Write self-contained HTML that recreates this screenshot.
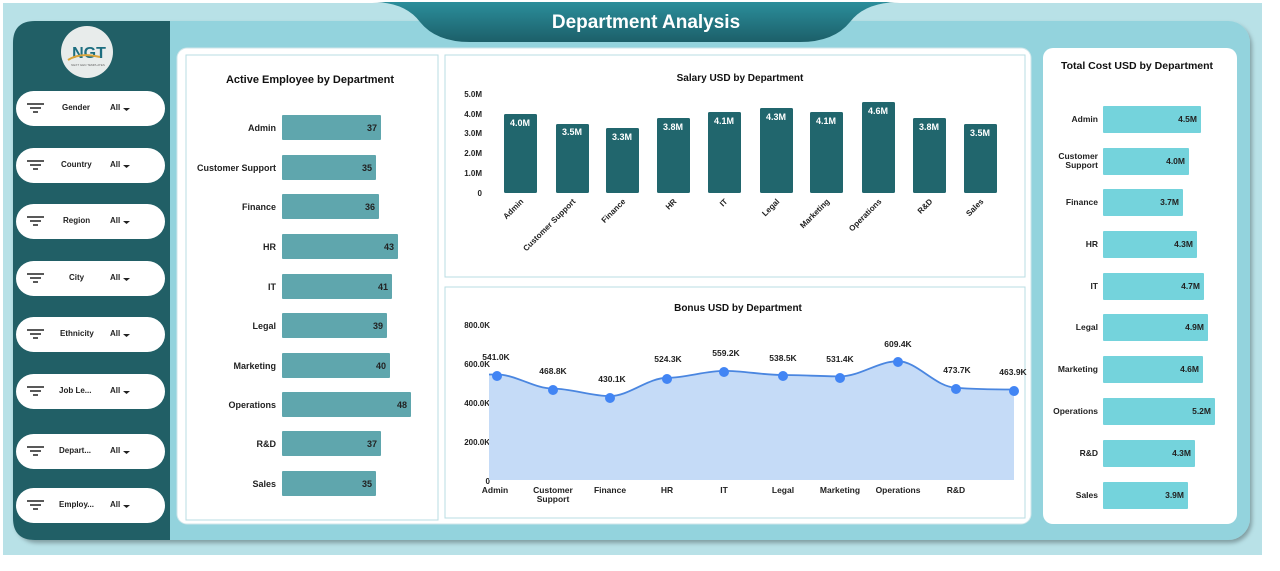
<!DOCTYPE html>
<html><head><meta charset="utf-8"><style>
body{margin:0;width:1280px;height:566px;overflow:hidden;background:#fff;font-family:"Liberation Sans",sans-serif}
svg text{font-family:"Liberation Sans",sans-serif}
</style></head><body>
<svg width="1280" height="566" viewBox="0 0 1280 566" xmlns="http://www.w3.org/2000/svg">
<defs>
<linearGradient id="ban" x1="0" y1="0" x2="0" y2="1"><stop offset="0" stop-color="#2b8e9b"/><stop offset="1" stop-color="#1c5f69"/></linearGradient>
<filter id="sh" x="-5%" y="-5%" width="110%" height="115%"><feDropShadow dx="2" dy="3" stdDeviation="2" flood-color="#000" flood-opacity="0.3"/></filter>
</defs>
<rect x="3" y="3" width="1259" height="552" fill="#b8e1e7"/>
<rect x="13" y="21" width="1237" height="519" rx="22" fill="#93d3dd" filter="url(#sh)"/>
<path d="M13 43 Q13 21 35 21 L170 21 L170 540 L35 540 Q13 540 13 518 Z" fill="#215f66"/>
<path d="M372 2 Q405 2 420 22 Q436 42 470 42 L800 42 Q834 42 850 22 Q865 2 900 2 Z" fill="url(#ban)"/>
<text x="646" y="28" font-size="19" font-weight="bold" fill="#fff" text-anchor="middle">Department  Analysis</text>
<!-- logo -->
<circle cx="87" cy="52" r="26" fill="#e8eceb"/>
<text x="89" y="58" font-size="16" font-weight="bold" fill="#1d6e80" text-anchor="middle">NGT</text>
<path d="M68 60 Q80 52 100 57" stroke="#d9a43a" stroke-width="2" fill="none"/>
<text x="88" y="66" font-size="3" fill="#666" text-anchor="middle">NEXT GEN TEMPLATES</text>
<!-- filters -->
<g font-size="8" font-weight="bold" fill="#222">
<g id="f">
</g>
</g>
<g>
<rect x="16" y="91" width="149" height="35" rx="17.5" fill="#fff"/>
<rect x="16" y="148" width="149" height="35" rx="17.5" fill="#fff"/>
<rect x="16" y="204" width="149" height="35" rx="17.5" fill="#fff"/>
<rect x="16" y="261" width="149" height="35" rx="17.5" fill="#fff"/>
<rect x="16" y="317" width="149" height="35" rx="17.5" fill="#fff"/>
<rect x="16" y="374" width="149" height="35" rx="17.5" fill="#fff"/>
<rect x="16" y="434" width="149" height="35" rx="17.5" fill="#fff"/>
<rect x="16" y="488" width="149" height="35" rx="17.5" fill="#fff"/>
</g>
<g stroke="#222" stroke-width="1.6">
<path d="M27 104h17M30 108h11M33 112h5"/><path d="M27 161h17M30 165h11M33 169h5"/><path d="M27 217h17M30 221h11M33 225h5"/><path d="M27 274h17M30 278h11M33 282h5"/><path d="M27 330h17M30 334h11M33 338h5"/><path d="M27 387h17M30 391h11M33 395h5"/><path d="M27 447h17M30 451h11M33 455h5"/><path d="M27 501h17M30 505h11M33 509h5"/>
</g>
<g font-size="8" font-weight="bold" fill="#222">
<text x="62" y="110">Gender</text><text x="61" y="167">Country</text><text x="63" y="223">Region</text><text x="69" y="280">City</text><text x="60" y="336">Ethnicity</text><text x="59" y="393">Job Le...</text><text x="59" y="453">Depart...</text><text x="59" y="507">Employ...</text>
<text x="110" y="110">All</text><text x="110" y="167">All</text><text x="110" y="223">All</text><text x="110" y="280">All</text><text x="110" y="336">All</text><text x="110" y="393">All</text><text x="110" y="453">All</text><text x="110" y="507">All</text>
</g>
<g fill="#222">
<path d="M123 108h7l-3.5 3z"/><path d="M123 165h7l-3.5 3z"/><path d="M123 221h7l-3.5 3z"/><path d="M123 278h7l-3.5 3z"/><path d="M123 334h7l-3.5 3z"/><path d="M123 391h7l-3.5 3z"/><path d="M123 451h7l-3.5 3z"/><path d="M123 505h7l-3.5 3z"/>
</g>
<!-- main card -->
<rect x="177" y="48" width="854" height="476" rx="10" fill="#fff" stroke="#cfe6ea"/>
<rect x="186" y="55" width="252" height="465" fill="#fff" stroke="#b9dde3"/>
<rect x="445" y="55" width="580" height="222" fill="#fff" stroke="#b9dde3"/>
<rect x="445" y="287" width="580" height="231" fill="#fff" stroke="#b9dde3"/>
<rect x="1043" y="48" width="194" height="476" rx="10" fill="#fff"/>
<!-- Active employee -->
<text x="310" y="83" font-size="11" font-weight="bold" text-anchor="middle" fill="#111">Active Employee by Department</text>
<g fill="#5fa6ad">
<rect x="282" y="115" width="99" height="25" rx="1"/><rect x="282" y="155" width="94" height="25" rx="1"/><rect x="282" y="194" width="97" height="25" rx="1"/><rect x="282" y="234" width="116" height="25" rx="1"/><rect x="282" y="274" width="110" height="25" rx="1"/><rect x="282" y="313" width="105" height="25" rx="1"/><rect x="282" y="353" width="108" height="25" rx="1"/><rect x="282" y="392" width="129" height="25" rx="1"/><rect x="282" y="431" width="99" height="25" rx="1"/><rect x="282" y="471" width="94" height="25" rx="1"/>
</g>
<g font-size="9" font-weight="bold" fill="#222" text-anchor="end">
<text x="276" y="131">Admin</text><text x="276" y="171">Customer Support</text><text x="276" y="210">Finance</text><text x="276" y="250">HR</text><text x="276" y="290">IT</text><text x="276" y="329">Legal</text><text x="276" y="369">Marketing</text><text x="276" y="408">Operations</text><text x="276" y="447">R&amp;D</text><text x="276" y="487">Sales</text>
<text x="377" y="131">37</text><text x="372" y="171">35</text><text x="375" y="210">36</text><text x="394" y="250">43</text><text x="388" y="290">41</text><text x="383" y="329">39</text><text x="386" y="369">40</text><text x="407" y="408">48</text><text x="377" y="447">37</text><text x="372" y="487">35</text>
</g>
<!-- Salary -->
<text x="740" y="81" font-size="10" font-weight="bold" text-anchor="middle" fill="#111">Salary USD by Department</text>
<g font-size="8" font-weight="bold" fill="#222" text-anchor="end">
<text x="482" y="97">5.0M</text><text x="482" y="117">4.0M</text><text x="482" y="136">3.0M</text><text x="482" y="156">2.0M</text><text x="482" y="176">1.0M</text><text x="482" y="196">0</text>
</g>
<g fill="#21666d">
<rect x="504" y="114" width="33" height="79" rx="1.5"/><rect x="556" y="124" width="33" height="69" rx="1.5"/><rect x="606" y="128" width="33" height="65" rx="1.5"/><rect x="657" y="118" width="33" height="75" rx="1.5"/><rect x="708" y="112" width="33" height="81" rx="1.5"/><rect x="760" y="108" width="33" height="85" rx="1.5"/><rect x="810" y="112" width="33" height="81" rx="1.5"/><rect x="862" y="102" width="33" height="91" rx="1.5"/><rect x="913" y="118" width="33" height="75" rx="1.5"/><rect x="964" y="124" width="33" height="69" rx="1.5"/>
</g>
<g font-size="9" font-weight="bold" fill="#fff" text-anchor="middle">
<text x="520" y="126">4.0M</text><text x="572" y="135">3.5M</text><text x="622" y="140">3.3M</text><text x="673" y="130">3.8M</text><text x="724" y="124">4.1M</text><text x="776" y="120">4.3M</text><text x="826" y="124">4.1M</text><text x="878" y="114">4.6M</text><text x="929" y="130">3.8M</text><text x="980" y="136">3.5M</text>
</g>
<g font-size="8" font-weight="bold" fill="#222" text-anchor="end">
<text transform="translate(524,202) rotate(-45)">Admin</text><text transform="translate(576,202) rotate(-45)">Customer Support</text><text transform="translate(626,202) rotate(-45)">Finance</text><text transform="translate(677,202) rotate(-45)">HR</text><text transform="translate(728,202) rotate(-45)">IT</text><text transform="translate(780,202) rotate(-45)">Legal</text><text transform="translate(830,202) rotate(-45)">Marketing</text><text transform="translate(882,202) rotate(-45)">Operations</text><text transform="translate(933,202) rotate(-45)">R&amp;D</text><text transform="translate(984,202) rotate(-45)">Sales</text>
</g>
<!-- Bonus -->
<text x="738" y="311" font-size="10" font-weight="bold" text-anchor="middle" fill="#111">Bonus USD by Department</text>
<g font-size="8" font-weight="bold" fill="#222" text-anchor="end">
<text x="490" y="328">800.0K</text><text x="490" y="367">600.0K</text><text x="490" y="406">400.0K</text><text x="490" y="445">200.0K</text><text x="490" y="484">0</text>
</g>
<path d="M489 374.5 L497 374.5 C516 374.5 534 388.6 553 388.6 C572 388.6 591 396.1 610 396.1 C629 396.1 648 377.8 667 377.8 C686 377.8 705 370.9 724 370.9 C744 370.9 763 375 783 375 C802 375 821 376.4 840 376.4 C860 376.4 878 361.2 898 361.2 C917 361.2 936 387.6 956 387.6 C975 389.5 995 389.5 1014 389.5 L1014 480 L489 480 Z" fill="#c5dbf7"/>
<path d="M489 374.5 L497 374.5 C516 374.5 534 388.6 553 388.6 C572 388.6 591 396.1 610 396.1 C629 396.1 648 377.8 667 377.8 C686 377.8 705 370.9 724 370.9 C744 370.9 763 375 783 375 C802 375 821 376.4 840 376.4 C860 376.4 878 361.2 898 361.2 C917 361.2 936 387.6 956 387.6 C975 389.5 995 389.5 1014 389.5" fill="none" stroke="#4a86e0" stroke-width="1.8"/>
<g fill="#4285f4">
<circle cx="497" cy="376" r="5"/><circle cx="553" cy="390" r="5"/><circle cx="610" cy="398" r="5"/><circle cx="667" cy="379" r="5"/><circle cx="724" cy="372" r="5"/><circle cx="783" cy="376" r="5"/><circle cx="840" cy="378" r="5"/><circle cx="898" cy="362" r="5"/><circle cx="956" cy="389" r="5"/><circle cx="1014" cy="391" r="5"/>
</g>
<g font-size="8.5" font-weight="bold" fill="#222" text-anchor="middle">
<text x="496" y="360">541.0K</text><text x="553" y="374">468.8K</text><text x="612" y="382">430.1K</text><text x="668" y="362">524.3K</text><text x="726" y="356">559.2K</text><text x="783" y="361">538.5K</text><text x="840" y="362">531.4K</text><text x="898" y="347">609.4K</text><text x="957" y="373">473.7K</text><text x="1013" y="375">463.9K</text>
</g>
<g font-size="8.5" font-weight="bold" fill="#222" text-anchor="middle">
<text x="495" y="493">Admin</text><text x="553" y="493">Customer</text><text x="553" y="502">Support</text><text x="610" y="493">Finance</text><text x="667" y="493">HR</text><text x="724" y="493">IT</text><text x="783" y="493">Legal</text><text x="840" y="493">Marketing</text><text x="898" y="493">Operations</text><text x="956" y="493">R&amp;D</text>
</g>
<!-- Total cost -->
<text x="1137" y="69" font-size="10.5" font-weight="bold" text-anchor="middle" fill="#111">Total Cost USD by Department</text>
<g fill="#74d3dc">
<rect x="1103" y="106" width="98" height="27" rx="1"/><rect x="1103" y="148" width="86" height="27" rx="1"/><rect x="1103" y="189" width="80" height="27" rx="1"/><rect x="1103" y="231" width="94" height="27" rx="1"/><rect x="1103" y="273" width="101" height="27" rx="1"/><rect x="1103" y="314" width="105" height="27" rx="1"/><rect x="1103" y="356" width="100" height="27" rx="1"/><rect x="1103" y="398" width="112" height="27" rx="1"/><rect x="1103" y="440" width="92" height="27" rx="1"/><rect x="1103" y="482" width="85" height="27" rx="1"/>
</g>
<g font-size="8.5" font-weight="bold" fill="#222" text-anchor="end">
<text x="1098" y="122">Admin</text><text x="1098" y="159">Customer</text><text x="1098" y="168">Support</text><text x="1098" y="205">Finance</text><text x="1098" y="247">HR</text><text x="1098" y="289">IT</text><text x="1098" y="330">Legal</text><text x="1098" y="372">Marketing</text><text x="1098" y="414">Operations</text><text x="1098" y="456">R&amp;D</text><text x="1098" y="498">Sales</text>
<text x="1197" y="122">4.5M</text><text x="1185" y="164">4.0M</text><text x="1179" y="205">3.7M</text><text x="1193" y="247">4.3M</text><text x="1200" y="289">4.7M</text><text x="1204" y="330">4.9M</text><text x="1199" y="372">4.6M</text><text x="1211" y="414">5.2M</text><text x="1191" y="456">4.3M</text><text x="1184" y="498">3.9M</text>
</g>
</svg>
</body></html>
